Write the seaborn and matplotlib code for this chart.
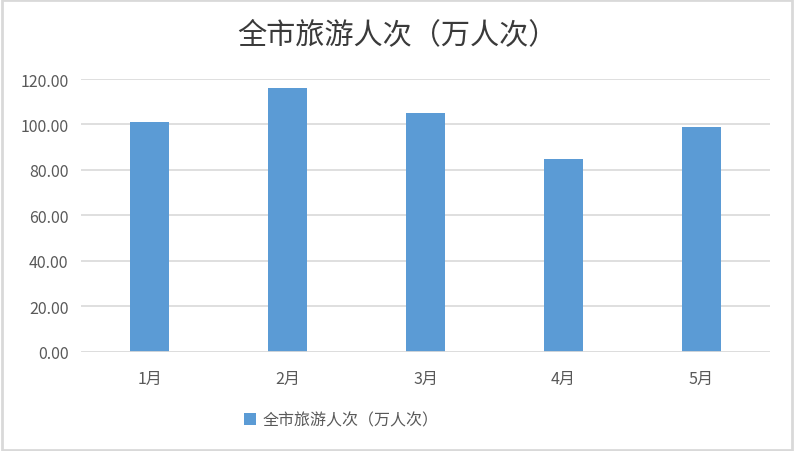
import matplotlib
matplotlib.use('Agg')
import matplotlib.pyplot as plt
import seaborn as sns
import pandas as pd

# Chart data
months = ['1月', '2月', '3月', '4月', '5月']
visitors = [101.1, 116.0, 105.0, 84.8, 98.9]
series_name = '全市旅游人次（万人次）'
y_ticks = [0, 20, 40, 60, 80, 100, 120]

BAR_COLOR = '#5b9bd5'
GRID_COLOR = '#d9d9d9'
TEXT_COLOR = '#595959'

sns.set_theme(style='white')
plt.rcParams['font.family'] = ['Noto Sans CJK SC', 'DejaVu Sans']

df = pd.DataFrame({'month': months, 'value': visitors})

fig = plt.figure(figsize=(7.94, 4.52), dpi=100, facecolor='white')
ax = fig.add_axes([0.102, 0.2197, 0.868, 0.6033])

sns.barplot(data=df, x='month', y='value', color=BAR_COLOR, width=0.283,
            saturation=1, linewidth=0, ax=ax, label=series_name, zorder=3)

ax.set_xlim(-0.5, len(months) - 0.5)
ax.set_ylim(0, 120)
ax.set_yticks(y_ticks)
ax.set_yticklabels([f'{v:.2f}' for v in y_ticks])
ax.set_xlabel('')
ax.set_ylabel('')

for v in y_ticks[1:]:
    ax.axhline(v, color=GRID_COLOR, linewidth=1.2, zorder=1)
ax.axhline(0, color=GRID_COLOR, linewidth=2, zorder=4)

for s in ax.spines.values():
    s.set_visible(False)
ax.tick_params(axis='both', length=0, colors=TEXT_COLOR, labelsize=11.5)
ax.tick_params(axis='y', pad=9)
ax.tick_params(axis='x', pad=13)

fig.text(0.5, 0.922, series_name, ha='center', va='center',
         fontsize=21, color='#3a3a3a', fontweight='medium')

leg = ax.legend(loc='center', bbox_to_anchor=(0.378, -0.25), frameon=False,
                fontsize=11.5, handlelength=0.75, handleheight=0.75,
                handletextpad=0.4)
for t in leg.get_texts():
    t.set_color(TEXT_COLOR)

# outer chart border
fig.patches.append(plt.Rectangle((0.002, 0.003), 0.996, 0.994, transform=fig.transFigure,
                                 fill=False, edgecolor=GRID_COLOR, linewidth=2))

fig.savefig('out.png', dpi=100, facecolor='white')
